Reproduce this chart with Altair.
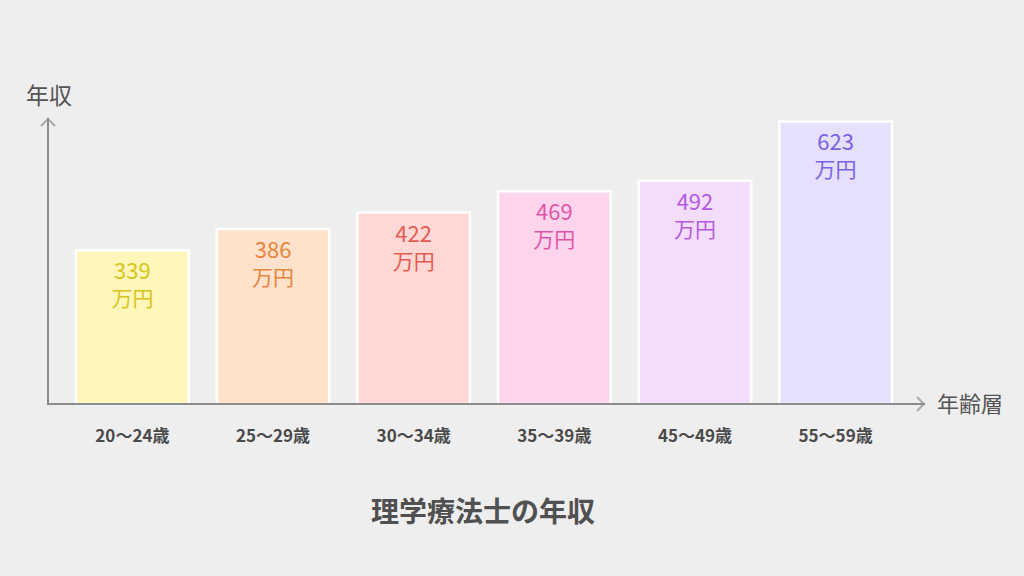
import altair as alt
import pandas as pd

ages = ["20〜24歳", "25〜29歳", "30〜34歳", "35〜39歳", "45〜49歳", "55〜59歳"]
salaries = [339, 386, 422, 469, 492, 623]
unit_label = "万円"
chart_title = "理学療法士の年収"
y_title = "年収"
x_title = "年齢層"

fill_colors = ["#fff6b9", "#ffe1cc", "#ffd8d5", "#ffd5ed", "#f4dcfb", "#e6dffd"]
text_colors = ["#d8c51c", "#e8843c", "#e65a52", "#e055a8", "#b45ae0", "#7b63e6"]

df = pd.DataFrame({"age": ages, "salary": salaries, "unit": [unit_label] * len(ages)})

W, H = 872, 313
AXIS = "#8c8c8c"
FONT = "Noto Sans CJK JP"
BG = "#eeeeee"

x_enc = alt.X("age:N", sort=ages,
              scale=alt.Scale(paddingInner=0.2, paddingOuter=0.2),
              axis=alt.Axis(title=None, domain=False, ticks=False, labelAngle=0,
                            labelPadding=24, labelFontSize=17, labelFontWeight="bold",
                            labelColor="#4a4a4a", labelFont=FONT))
y_enc = alt.Y("salary:Q", scale=alt.Scale(domain=[0, 690], nice=False),
              axis=None)

base = alt.Chart(df)

bars = base.mark_bar(stroke="white", strokeWidth=2.5).encode(
    x=x_enc, y=y_enc,
    fill=alt.Fill("age:N", scale=alt.Scale(domain=ages, range=fill_colors), legend=None),
)

num_text = base.mark_text(baseline="middle", dy=22, fontSize=22, font=FONT).encode(
    x=alt.X("age:N", sort=ages), y="salary:Q",
    text="salary:Q",
    color=alt.Color("age:N", scale=alt.Scale(domain=ages, range=text_colors), legend=None),
)
unit_text = base.mark_text(baseline="middle", dy=50, fontSize=21, font=FONT).encode(
    x=alt.X("age:N", sort=ages), y="salary:Q",
    text="unit:N",
    color=alt.Color("age:N", scale=alt.Scale(domain=ages, range=text_colors), legend=None),
)

deco = alt.Chart(pd.DataFrame({"a": [0]}))

y_line = deco.mark_rule(color=AXIS, strokeWidth=2).encode(
    x=alt.value(0), y=alt.value(27), y2=alt.value(H + 1))
x_line = deco.mark_rule(color=AXIS, strokeWidth=2).encode(
    x=alt.value(-1), x2=alt.value(877), y=alt.value(H))
chevron = "M-1,1L0,0L1,1"
y_head = deco.mark_point(shape=chevron, filled=False, stroke=AXIS, strokeWidth=2,
                         size=200).encode(x=alt.value(0), y=alt.value(28))
x_head = deco.mark_point(shape=chevron, filled=False, stroke=AXIS, strokeWidth=2,
                         size=200, angle=90).encode(x=alt.value(876), y=alt.value(H))

y_label = deco.mark_text(text=y_title, fontSize=23, font=FONT, color="#555555",
                         align="center", baseline="middle").encode(
    x=alt.value(1), y=alt.value(6))
x_label = deco.mark_text(text=x_title, fontSize=22, font=FONT, color="#555555",
                         align="left", baseline="middle").encode(
    x=alt.value(889), y=alt.value(H + 1))
title = deco.mark_text(text=chart_title, fontSize=28, font=FONT, fontWeight="bold",
                       color="#505050", align="center", baseline="middle").encode(
    x=alt.value(W / 2 - 1), y=alt.value(H + 110))

chart = alt.layer(bars, num_text, unit_text, y_line, x_line, y_head, x_head,
                  y_label, x_label, title).properties(
    width=W, height=H,
    autosize=alt.AutoSizeParams(type="none"),
    padding={"left": 40, "top": 83, "right": 1008 - 40 - W, "bottom": 560 - 83 - H},
    background=BG,
).configure_view(stroke=None)

chart.save("out.html", embed_options={"renderer": "svg", "actions": False})

with open("out.html", encoding="utf-8") as f:
    html = f.read()
html = html.replace("<head>", "<head>\n<style>html,body{background:%s;}</style>" % BG, 1)
with open("out.html", "w", encoding="utf-8") as f:
    f.write(html)
